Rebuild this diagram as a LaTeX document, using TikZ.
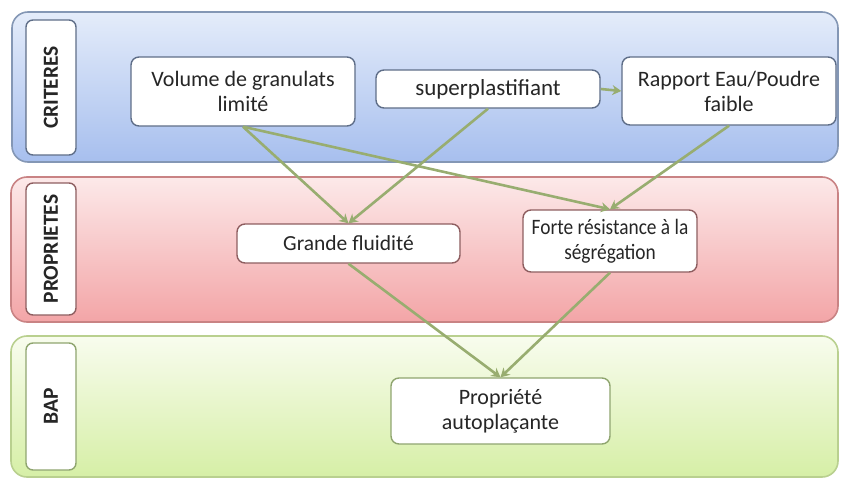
\documentclass[tikz,border=0pt]{standalone}
\usepackage{fontspec}
\setmainfont{Carlito}
\newfontfamily\condensedfont{Carlito}[FakeStretch=0.88]
\usetikzlibrary{arrows.meta}
\definecolor{txt}{HTML}{262626}
\definecolor{bluetop}{HTML}{E4ECFA}
\definecolor{bluebot}{HTML}{A7BFEE}
\definecolor{blueedge}{HTML}{8497B5}
\definecolor{boxblue}{HTML}{5F6E88}
\definecolor{redtop}{HTML}{FCE9E9}
\definecolor{redbot}{HTML}{F3A5A7}
\definecolor{rededge}{HTML}{C98384}
\definecolor{boxred}{HTML}{8E5E60}
\definecolor{greentop}{HTML}{F8FCEE}
\definecolor{greenbot}{HTML}{D6EFA6}
\definecolor{greenedge}{HTML}{B9D08F}
\definecolor{boxgreen}{HTML}{8FA56F}
\definecolor{arrowc}{HTML}{98AD70}
\tikzset{
  band/.style={line width=1.6pt, rounded corners=16pt},
  tab/.style={draw=#1, fill=white, line width=1.4pt, rounded corners=7pt,
    rotate=90, minimum height=50pt, inner sep=0pt, text=txt,
    font=\fontsize{21.5}{24}\selectfont\bfseries},
  itembox/.style={draw=#1, fill=white, line width=1.4pt, rounded corners=8pt,
    inner sep=0pt, align=center, text=txt,
    font=\fontsize{22}{25}\selectfont},
  conn/.style={draw=arrowc, line width=2.6pt,
    -{Stealth[length=9pt,width=10pt]}},
}
\begin{document}
\begin{tikzpicture}[x=1pt,y=-1pt]
\useasboundingbox (0,0) rectangle (841,479);
% bands
\path[band, draw=blueedge, top color=bluetop, bottom color=bluebot] (12,12) rectangle (838,162);
\path[band, draw=rededge, top color=redtop, bottom color=redbot] (11,177) rectangle (838,322);
\path[band, draw=greenedge, top color=greentop, bottom color=greenbot] (11,336) rectangle (838,477);
% tabs
\node[tab=boxblue, minimum width=135pt] (tc) at (51,87.5) {CRITERES};
\node[tab=boxred, minimum width=132pt] (tp) at (51,249) {PROPRIETES};
\node[tab=boxgreen, minimum width=127pt] (tb) at (51,406.5) {BAP};
% items
\node[itembox=boxblue, minimum width=224pt, minimum height=69pt] (vol) at (243,91.5) {Volume de granulats\\limité};
\node[itembox=boxblue, minimum width=224pt, minimum height=38pt, font=\fontsize{23}{25}\selectfont] (sup) at (488,89) {superplastifiant};
\node[itembox=boxblue, minimum width=214pt, minimum height=68pt] (rap) at (729,91) {Rapport Eau/Poudre\\faible};
\node[itembox=boxred, minimum width=223pt, minimum height=39pt, font=\fontsize{21.5}{25}\selectfont] (gf) at (348.5,243.5) {Grande fluidité};
\node[itembox=boxred, minimum width=174pt, minimum height=62pt, font=\condensedfont\fontsize{22}{25}\selectfont] (fr) at (610,241) {Forte résistance à la\\ségrégation};
\node[itembox=boxgreen, minimum width=219pt, minimum height=66pt] (pa) at (500.5,411) {Propriété\\autoplaçante};
% connectors
\draw[conn] (vol.south) -- (gf.north);
\draw[conn] (vol.south) -- (fr.north);
\draw[conn] (sup.south) -- (gf.north);
\draw[conn] (rap.south) -- (fr.north);
\draw[conn] (sup.east) -- (rap.west);
\draw[conn] (gf.south) -- (pa.north);
\draw[conn] (fr.south) -- (pa.north);
\end{tikzpicture}
\end{document}
